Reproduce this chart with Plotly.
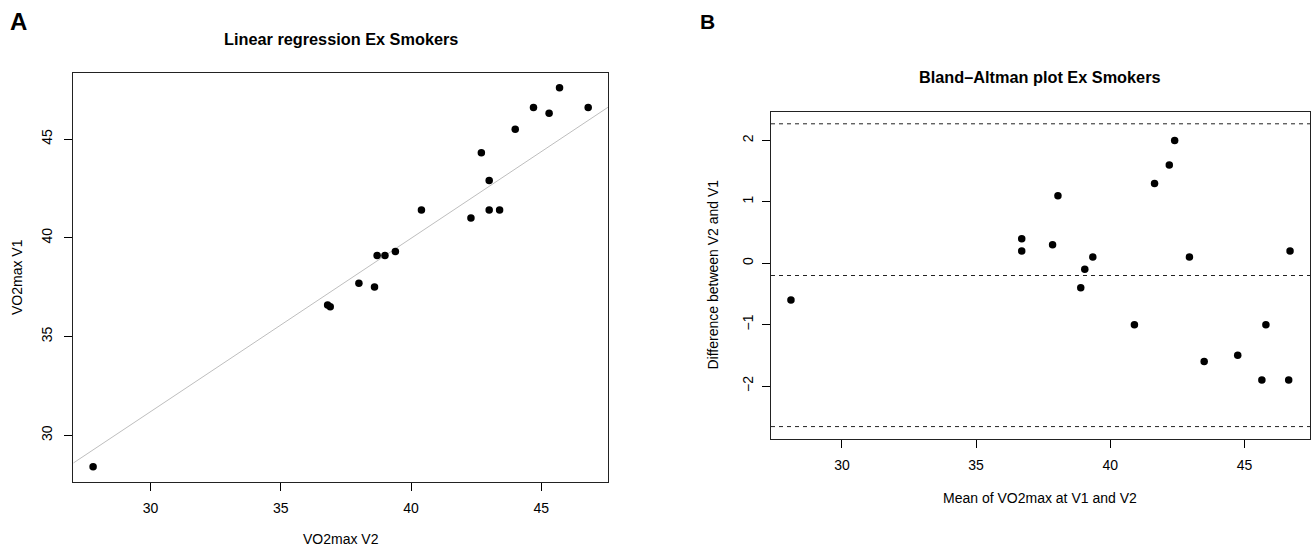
import plotly.graph_objects as go

# ---- Data ----
vo2_v2 = [27.8, 36.8, 36.9, 38.0, 38.6, 38.7, 39.0, 39.4, 40.4, 42.3,
          42.7, 43.0, 43.0, 43.4, 44.0, 44.7, 45.3, 45.7, 46.8]
vo2_v1 = [28.4, 36.6, 36.5, 37.7, 37.5, 39.1, 39.1, 39.3, 41.4, 41.0,
          44.3, 42.9, 41.4, 41.4, 45.5, 46.6, 46.3, 47.6, 46.6]

ba_mean = [28.1, 36.7, 36.7, 37.85, 38.05, 38.9, 39.05, 39.35, 40.9, 41.65,
           43.5, 42.95, 42.2, 42.4, 44.75, 45.65, 45.8, 46.65, 46.7]
ba_diff = [-0.6, 0.2, 0.4, 0.3, 1.1, -0.4, -0.1, 0.1, -1.0, 1.3,
           -1.6, 0.1, 1.6, 2.0, -1.5, -1.9, -1.0, -1.9, 0.2]

reg_intercept = 4.85
reg_slope = 0.878

ba_bias = -0.2
ba_upper = 2.27
ba_lower = -2.66

x_ticks = [30, 35, 40, 45]
a_y_ticks = [30, 35, 40, 45]
b_y_ticks = [-2, -1, 0, 1, 2]
b_y_ticktext = ["\u22122", "\u22121", "0", "1", "2"]


def r_range(vals):
    lo, hi = min(vals), max(vals)
    pad = (hi - lo) * 0.04
    return [lo - pad, hi + pad]


ax_x = r_range(vo2_v2)
ax_y = r_range(vo2_v1)
bx_x = r_range(ba_mean)
bx_y = r_range(ba_diff + [ba_upper, ba_lower])

W, H = 1311, 549
FONT = "Liberation Sans, Arial, Helvetica, sans-serif"

fig = go.Figure()

# Panel A: regression line
fig.add_trace(go.Scatter(
    x=ax_x, y=[reg_intercept + reg_slope * v for v in ax_x],
    mode="lines", line=dict(color="#bebebe", width=1),
    xaxis="x", yaxis="y", showlegend=False, hoverinfo="skip"))
# Panel A points
fig.add_trace(go.Scatter(
    x=vo2_v2, y=vo2_v1, mode="markers",
    marker=dict(color="black", size=7.5),
    xaxis="x", yaxis="y", showlegend=False))
# Panel B points
fig.add_trace(go.Scatter(
    x=ba_mean, y=ba_diff, mode="markers",
    marker=dict(color="black", size=7.5),
    xaxis="x2", yaxis="y2", showlegend=False))

shapes = []
for v in [ba_upper, ba_bias, ba_lower]:
    shapes.append(dict(type="line", xref="x2 domain", yref="y2",
                       x0=0, x1=1, y0=v, y1=v,
                       line=dict(color="#222222", width=1, dash="4px,4px")))


def px_x(p):
    return p / W


def px_y(p):
    return 1 - p / H


axis_common = dict(
    showgrid=False, zeroline=False, showline=True, mirror=True,
    linecolor="#222222", linewidth=1, ticks="outside", ticklen=8,
    tickwidth=1, tickcolor="black", tickmode="array",
    tickfont=dict(family=FONT, size=14, color="black"),
)

fig.update_layout(
    width=W, height=H, autosize=False,
    margin=dict(l=0, r=0, t=0, b=0),
    paper_bgcolor="white", plot_bgcolor="white",
    font=dict(family=FONT, color="black"),
    shapes=shapes,
    xaxis=dict(domain=[px_x(73.3), px_x(608)], range=ax_x, tickvals=x_ticks,
               anchor="y", ticklabelstandoff=5, **axis_common),
    yaxis=dict(domain=[px_y(482), px_y(72.5)], range=ax_y, tickvals=a_y_ticks,
               anchor="x", tickangle=-90, ticklabelstandoff=7, **axis_common),
    xaxis2=dict(domain=[px_x(771), px_x(1310)], range=bx_x, tickvals=x_ticks,
                anchor="y2", ticklabelstandoff=5, **axis_common),
    yaxis2=dict(domain=[px_y(438.7), px_y(111.7)], range=bx_y, tickvals=b_y_ticks,
                ticktext=b_y_ticktext,
                anchor="x2", tickangle=-90, ticklabelstandoff=3, **axis_common),
)

ann = []


def add_text(text, xp, yp, size, bold=False, angle=0, family=FONT):
    ann.append(dict(
        text=f"<b>{text}</b>" if bold else text,
        x=px_x(xp), y=px_y(yp), xref="paper", yref="paper",
        showarrow=False, xanchor="center", yanchor="middle",
        textangle=angle, font=dict(family=family, size=size, color="black")))


add_text("A", 18, 21, 24, bold=True)
add_text("B", 707.5, 22, 21, bold=True)
add_text("Linear regression Ex Smokers", 341, 38.5, 16.3, bold=True)
add_text("Bland\u2013Altman plot Ex Smokers", 1040, 77, 16.3, bold=True)
add_text("VO2max V2", 341, 539, 14)
add_text("VO2max V1", 17, 277, 14, angle=-90)
add_text("Mean of VO2max at V1 and V2", 1040, 498, 14)
add_text("Difference between V2 and V1", 712.5, 275, 14, angle=-90)

fig.update_layout(annotations=ann)

fig.write_html(
    "out.html",
    config={"displayModeBar": False},
    post_script="document.body.style.margin='0';document.body.style.overflow='hidden';",
)
